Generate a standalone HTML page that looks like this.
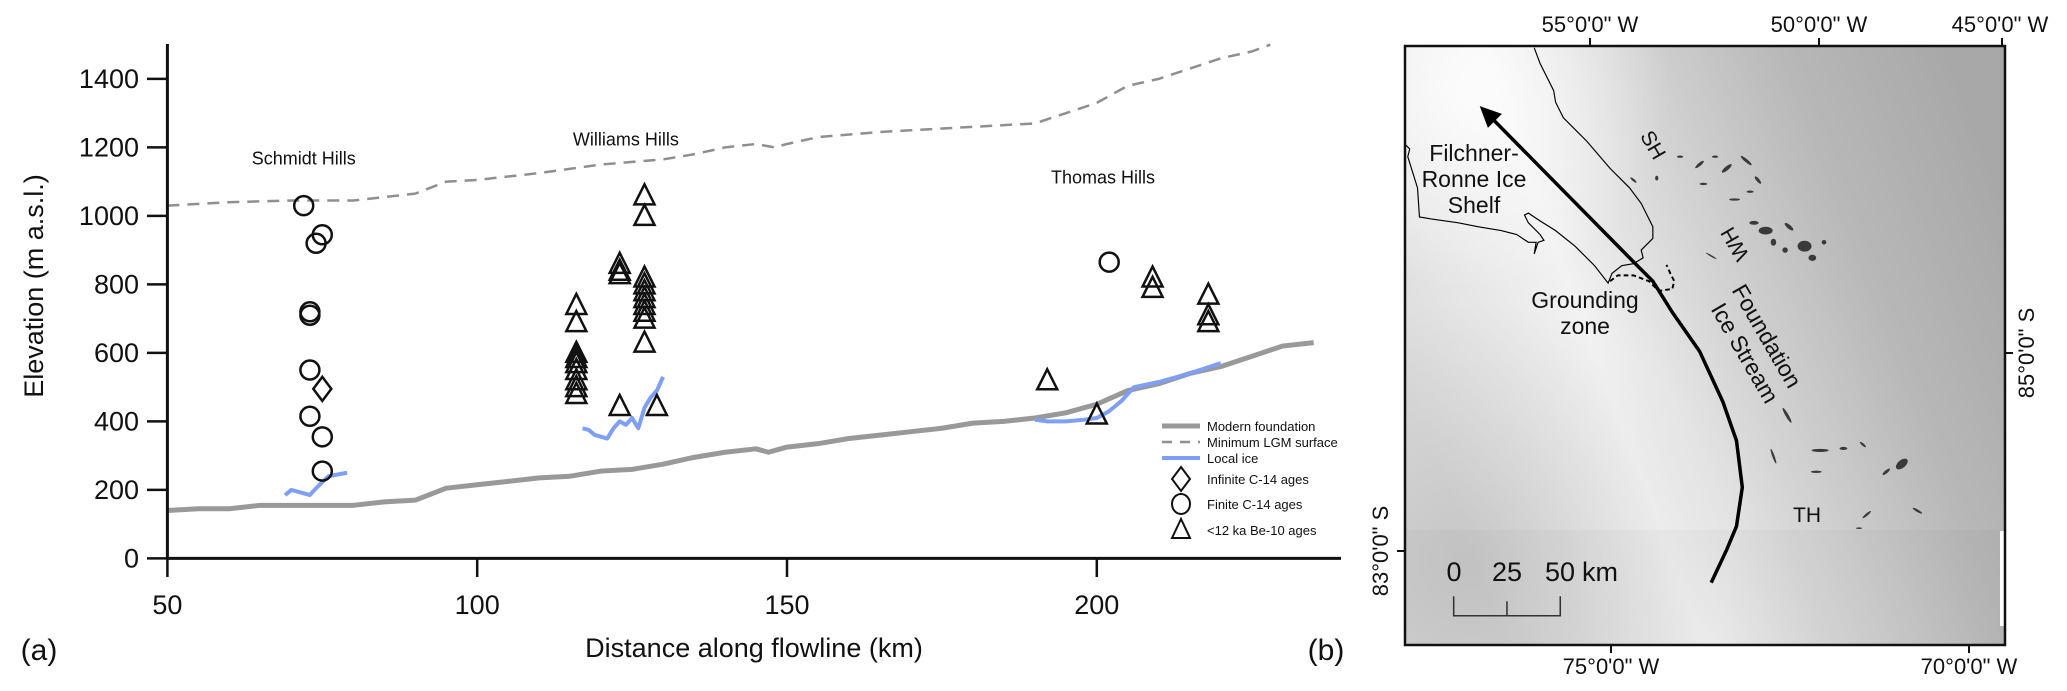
<!DOCTYPE html>
<html><head><meta charset="utf-8"><style>
html,body{margin:0;padding:0;background:#fff;}
svg{display:block;font-family:"Liberation Sans",Arial,sans-serif;}
</style></head><body>
<svg id="fig" width="2067" height="691" viewBox="0 0 2067 691">
<defs>
<linearGradient id="mapg" gradientUnits="userSpaceOnUse" x1="1420" y1="420" x2="2005" y2="200">
<stop offset="0" stop-color="#dcdcdc"/><stop offset="0.3" stop-color="#f2f2f2"/><stop offset="0.5" stop-color="#d6d6d6"/><stop offset="0.75" stop-color="#b8b8b8"/><stop offset="1" stop-color="#a8a8a8"/>
</linearGradient>
<radialGradient id="blg" cx="1470" cy="560" r="260" gradientUnits="userSpaceOnUse">
<stop offset="0" stop-color="#000" stop-opacity="0.1"/><stop offset="1" stop-color="#000" stop-opacity="0"/>
</radialGradient>
<radialGradient id="tlg" cx="1470" cy="90" r="200" gradientUnits="userSpaceOnUse">
<stop offset="0" stop-color="#fff" stop-opacity="0.8"/><stop offset="1" stop-color="#fff" stop-opacity="0"/>
</radialGradient>
</defs>
<g id="chart"></g>
<g id="map">
<rect x="1405" y="46" width="600" height="599" fill="url(#mapg)"/>
<rect x="1405" y="46" width="600" height="599" fill="url(#blg)"/>
<rect x="1405" y="46" width="600" height="599" fill="url(#tlg)"/>
<rect x="1405" y="530" width="600" height="115" fill="#000" opacity="0.025"/>
<rect x="2000" y="531" width="4" height="95" fill="#fff"/>
<g transform="translate(1400,40) scale(0.389)">
<g fill="#3a3a3a">
<ellipse cx="770" cy="320" rx="14" ry="4" transform="rotate(-40 770 320)"/><ellipse cx="840" cy="330" rx="16" ry="5" transform="rotate(-40 840 330)"/><ellipse cx="890" cy="310" rx="18" ry="4" transform="rotate(40 890 310)"/><ellipse cx="920" cy="360" rx="12" ry="4" transform="rotate(50 920 360)"/><ellipse cx="780" cy="370" rx="10" ry="3"/><ellipse cx="860" cy="410" rx="14" ry="3"/><ellipse cx="600" cy="360" rx="10" ry="3" transform="rotate(40 600 360)"/><ellipse cx="660" cy="355" rx="4" ry="6"/><ellipse cx="720" cy="300" rx="8" ry="3"/><ellipse cx="810" cy="300" rx="8" ry="3"/><ellipse cx="900" cy="390" rx="9" ry="3"/>
<ellipse cx="940" cy="490" rx="18" ry="10"/><ellipse cx="910" cy="470" rx="12" ry="5"/><ellipse cx="1000" cy="480" rx="14" ry="5" transform="rotate(40 1000 480)"/><ellipse cx="1040" cy="530" rx="18" ry="14"/><ellipse cx="1060" cy="560" rx="10" ry="8"/><ellipse cx="990" cy="540" rx="7" ry="7"/><ellipse cx="960" cy="520" rx="7" ry="9"/><ellipse cx="800" cy="555" rx="16" ry="2" transform="rotate(30 800 555)"/><ellipse cx="1090" cy="520" rx="6" ry="6"/>
<ellipse cx="995" cy="965" rx="22" ry="4" transform="rotate(60 995 965)"/><ellipse cx="1080" cy="1055" rx="22" ry="4"/><ellipse cx="1140" cy="1050" rx="10" ry="4"/><ellipse cx="1070" cy="1110" rx="14" ry="3"/><ellipse cx="1290" cy="1090" rx="18" ry="10" transform="rotate(-40 1290 1090)"/><ellipse cx="1250" cy="1110" rx="12" ry="4" transform="rotate(-40 1250 1110)"/><ellipse cx="960" cy="1070" rx="20" ry="3" transform="rotate(70 960 1070)"/><ellipse cx="1200" cy="1220" rx="14" ry="3" transform="rotate(-40 1200 1220)"/><ellipse cx="1330" cy="1210" rx="14" ry="3" transform="rotate(30 1330 1210)"/><ellipse cx="1180" cy="1255" rx="8" ry="2"/><ellipse cx="1190" cy="1040" rx="10" ry="3" transform="rotate(40 1190 1040)"/>
</g>
<polyline fill="none" stroke="#000" stroke-width="3" points="345,20 360,60 395,130 400,160 420,200 480,260 540,330 590,380 620,420 650,480 650,510 620,540 625,560 600,575 570,580 545,600 535,625 500,580 450,530 400,490 360,465 330,445 320,450 330,470 360,500 370,515 355,520 345,550 350,520 330,520 300,500 260,490 200,480 150,470 80,460 50,455 45,380 20,300 25,280 15,270"/>
<polyline fill="none" stroke="#000" stroke-width="5" stroke-dasharray="12,8" points="540,620 560,605 600,605 640,620 665,645 700,640 705,620 695,600 685,578"/>
<polyline fill="none" stroke="#000" stroke-width="9" points="240,205 600,570 650,620 700,700 770,800 830,930 865,1030 880,1150 865,1250 840,1310 800,1395"/>
<polygon points="205,170 262,190 226,226" fill="#000"/>
<g fill="none" stroke="#333" stroke-width="4"><polyline points="138,1430 138,1480 412,1480 412,1430"/><line x1="275" y1="1480" x2="275" y2="1443"/></g>
</g>
<rect x="1405" y="46" width="600" height="599" fill="none" stroke="#111" stroke-width="2.5"/>
<g stroke="#111" stroke-width="2"><line x1="1590" y1="38" x2="1590" y2="46"/><line x1="1819" y1="38" x2="1819" y2="46"/><line x1="2002" y1="38" x2="2002" y2="46"/><line x1="1611" y1="645" x2="1611" y2="653"/><line x1="1969" y1="645" x2="1969" y2="653"/><line x1="2005" y1="353" x2="2013" y2="353"/><line x1="1397" y1="551" x2="1405" y2="551"/></g>
<g font-size="22" fill="#111" text-anchor="middle">
<text x="1590" y="32">55°0'0" W</text>
<text x="1819" y="32">50°0'0" W</text>
<text x="2000" y="32">45°0'0" W</text>
<text x="1611" y="674">75°0'0" W</text>
<text x="1969" y="674">70°0'0" W</text>
<text x="0" y="0" transform="translate(2034,353) rotate(-90)">85°0'0" S</text>
<text x="0" y="0" transform="translate(1388,551) rotate(-90)">83°0'0" S</text>
</g>
<g font-size="23" fill="#111" text-anchor="middle">
<text x="1474" y="161">Filchner-</text>
<text x="1474" y="187">Ronne Ice</text>
<text x="1474" y="213">Shelf</text>
<text x="1585" y="308">Grounding</text>
<text x="1585" y="334">zone</text>
<text x="0" y="0" transform="translate(1760,340) rotate(60)">Foundation</text>
<text x="0" y="0" transform="translate(1738,357) rotate(60)">Ice Stream</text>
<text x="0" y="0" font-size="21" transform="translate(1653,145) rotate(60)" dy="7">SH</text>
<text x="0" y="0" font-size="21" transform="translate(1735,244) rotate(240)" dy="7">WH</text>
<text x="1807" y="522" font-size="21">TH</text>
<text x="1454" y="581" font-size="27">0</text>
<text x="1507" y="581" font-size="27">25</text>
<text x="1560" y="581" font-size="27">50</text>
<text x="1600" y="581" font-size="27">km</text>
</g>
</g>
</svg>
<script>
const foundKm=[50,55,60,65,70,80,85,90,95,100,105,110,115,120,125,130,135,140,145,147,150,155,160,165,170,175,180,185,190,195,200,205,210,215,220,225,230,235];
const foundElev=[140,145,145,155,155,155,165,170,205,215,225,235,240,255,260,275,295,310,320,310,325,335,350,360,370,380,395,400,410,425,450,490,510,540,560,590,620,630];
const lgmKm=[50,55,60,70,80,85,90,95,100,110,120,130,135,140,145,148,150,155,165,170,180,190,195,200,205,210,215,220,225,228];
const lgmElev=[1030,1035,1040,1045,1045,1055,1065,1100,1105,1125,1150,1165,1180,1200,1210,1200,1210,1230,1245,1250,1260,1270,1300,1330,1380,1400,1430,1460,1480,1500];
const iceSH_Km=[69,70,72,73,74,76,79];
const iceSH_Elev=[185,200,190,185,205,240,250];
const iceWH_Km=[117,118,119,121,122,123,124,125,126,127,128,129,130];
const iceWH_Elev=[380,375,360,350,380,400,390,410,380,440,470,490,530];
const iceTH_Km=[190,192,195,198,200,202,204,206,210,215,220];
const iceTH_Elev=[405,400,400,405,410,430,460,500,515,540,570];
const circleKm=[72,74,75,73,73,73,73,75,75,202];
const circleElev=[1030,920,945,720,710,550,415,355,255,865];
const diamondKm=[75];
const diamondElev=[495];
const triKm=[116,116,116,116,116,116,116,116,116,123,123,123,123,127,127,127,127,127,127,127,127,127,127,129,192,200,209,209,218,218,218];
const triElev=[740,690,600,585,570,550,520,500,480,860,840,830,445,1060,1000,820,800,780,760,740,720,700,630,445,520,420,820,790,770,710,690];
const xTicks=[50,100,150,200];
const yTicks=[0,200,400,600,800,1000,1200,1400];
const regionNames=["Schmidt Hills","Williams Hills","Thomas Hills"];
const regionKm=[72,124,201];
const regionElev=[1150,1205,1095];

const NS="http://www.w3.org/2000/svg";
const X=d=>167.4+(d-50)*6.196;
const Y=v=>558.4-v*0.3425;
const g=document.getElementById('chart');
function mk(tag,attrs,parent){const e=document.createElementNS(NS,tag);for(const k in attrs)e.setAttribute(k,attrs[k]);(parent||g).appendChild(e);return e;}
function line(km,el,stroke,w,dash,name){
  const p=mk('polyline',{points:km.map((d,i)=>X(d)+','+Y(el[i])).join(' '),fill:'none',stroke:stroke,'stroke-width':w,'stroke-linejoin':'round'});
  if(dash)p.setAttribute('stroke-dasharray',dash);
  
  
}
line(lgmKm,lgmElev,'#8f8f8f',2.5,'12,8','lgm-surface-line');
line(foundKm,foundElev,'#999',5,null,'modern-foundation-line');
line(iceSH_Km,iceSH_Elev,'#7f9ff5',4,null,'local-ice-schmidt');
line(iceWH_Km,iceWH_Elev,'#7f9ff5',4,null,'local-ice-williams');
line(iceTH_Km,iceTH_Elev,'#7f9ff5',4,null,'local-ice-thomas');
const ax=mk('path',{d:'M167.4,44 V558.4 H1341',fill:'none',stroke:'#111','stroke-width':3});


yTicks.forEach(v=>{
  mk('line',{x1:147,x2:167.4,y1:Y(v),y2:Y(v),stroke:'#111','stroke-width':2.5});
  const t=mk('text',{x:139,y:Y(v)+9,'font-size':27,'text-anchor':'end',fill:'#111'});t.textContent=v;
  
  
});
xTicks.forEach(v=>{
  mk('line',{x1:X(v),x2:X(v),y1:558.4,y2:577,stroke:'#111','stroke-width':2.5});
  const t=mk('text',{x:X(v),y:614,'font-size':27,'text-anchor':'middle',fill:'#111'});t.textContent=v;
  
  
});
function txt(s,x,y,size,name,extra){const t=mk('text',Object.assign({x:x,y:y,'font-size':size,fill:'#111'},extra||{}));t.textContent=s;
  
  
  return t;}
txt('Distance along flowline (km)',754,657,27,'x-axis-title',{'text-anchor':'middle'});
txt('Elevation (m a.s.l.)',0,0,27,'y-axis-title',{'text-anchor':'middle',transform:'translate(43,286) rotate(-90)'});
txt('(a)',39,660,30,'panel-label-a',{'text-anchor':'middle'});
txt('(b)',1326,660,30,'panel-label-b',{'text-anchor':'middle'});
regionNames.forEach((n,i)=>{txt(n,X(regionKm[i]),Y(regionElev[i]),18,'region-label',{'text-anchor':'middle'});});
triKm.forEach((d,i)=>{const x=X(d),y=Y(triElev[i]);
  const p=mk('polygon',{points:`${x},${y-11} ${x-10},${y+9} ${x+10},${y+9}`,fill:'none',stroke:'#111','stroke-width':2.5});
  
  
});
circleKm.forEach((d,i)=>{
  const c=mk('circle',{cx:X(d),cy:Y(circleElev[i]),r:9.5,fill:'none',stroke:'#111','stroke-width':2.5});
  
  
});
diamondKm.forEach((d,i)=>{const x=X(d),y=Y(diamondElev[i]);
  const p=mk('polygon',{points:`${x},${y-12} ${x+9},${y} ${x},${y+12} ${x-9},${y}`,fill:'none',stroke:'#111','stroke-width':2.5});
  
  
});
const lg=mk('g',{});


mk('line',{x1:1162,x2:1200,y1:426,y2:426,stroke:'#999','stroke-width':5},lg);
mk('line',{x1:1162,x2:1200,y1:442,y2:442,stroke:'#8f8f8f','stroke-width':2.5,'stroke-dasharray':'10,8'},lg);
mk('line',{x1:1162,x2:1200,y1:458,y2:458,stroke:'#7f9ff5','stroke-width':4},lg);
mk('polygon',{points:'1181,467 1190,479 1181,491 1172,479',fill:'none',stroke:'#111','stroke-width':2},lg);
mk('ellipse',{cx:1181,cy:504,rx:9,ry:10,fill:'none',stroke:'#111','stroke-width':2},lg);
mk('polygon',{points:'1181,519 1172,538 1190,538',fill:'none',stroke:'#111','stroke-width':2},lg);
const legTexts=['Modern foundation','Minimum LGM surface','Local ice','Infinite C-14 ages','Finite C-14 ages','<12 ka Be-10 ages'];
const legY=[431,447,463,484,509,535];
legTexts.forEach((s,i)=>{const t=mk('text',{x:1207,y:legY[i],'font-size':13,fill:'#111'},lg);t.textContent=s;
  
  
});
</script>
</body></html>
